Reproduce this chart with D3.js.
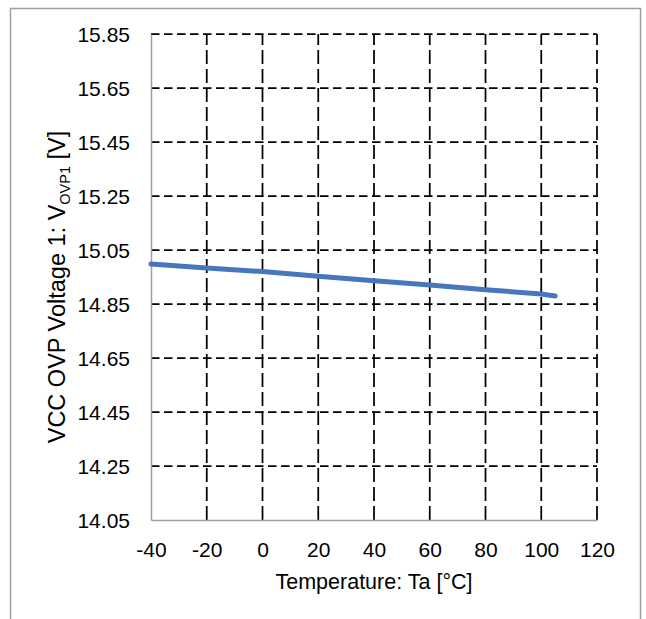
<!DOCTYPE html>
<html>
<head>
<meta charset="utf-8">
<script src="https://cdn.jsdelivr.net/npm/d3@7"></script>
<style>
  html, body { margin: 0; padding: 0; background: #fff; }
  svg { display: block; }
  text { font-family: "Liberation Sans", Arial, sans-serif; fill: #000; }
</style>
</head>
<body>
<svg id="chart" width="646" height="619"></svg>
<script>
// Ambient temperature (°C) and measured VCC OVP threshold voltage (V)
const temperature = [-40, -20, 0, 20, 40, 60, 80, 100, 105];
const vovp1 = [14.998, 14.983, 14.970, 14.953, 14.936, 14.920, 14.903, 14.887, 14.880];

const xTicks = [-40, -20, 0, 20, 40, 60, 80, 100, 120];
const yTicks = [14.05, 14.25, 14.45, 14.65, 14.85, 15.05, 15.25, 15.45, 15.65, 15.85];

const svg = d3.select("#chart");
const W = 646, H = 619;
const plot = { left: 151, right: 597, top: 34, bottom: 520 };
const FONT = "'Liberation Sans', Arial, sans-serif";

svg.append("rect").attr("width", W).attr("height", H).attr("fill", "#fff");

// chart frame
svg.append("rect")
  .attr("x", 10.5).attr("y", 8.5)
  .attr("width", 630).attr("height", 640)
  .attr("fill", "none").attr("stroke", "#a0a0a0").attr("stroke-width", 1.5);

const x = d3.scaleLinear().domain([-40, 120]).range([plot.left, plot.right]);
const y = d3.scaleLinear().domain([14.05, 15.85]).range([plot.bottom, plot.top]);

// horizontal dashed gridlines
svg.append("g").selectAll("line")
  .data(yTicks.filter(d => d > 14.05))
  .join("line")
  .attr("x1", plot.left).attr("x2", plot.right)
  .attr("y1", d => y(d)).attr("y2", d => y(d))
  .attr("stroke", "#000").attr("stroke-width", 1.75)
  .attr("stroke-dasharray", "8.5,4.5");

// vertical dashed gridlines, drawn upward from the x axis
svg.append("g").selectAll("line")
  .data(xTicks.filter(d => d > -40))
  .join("line")
  .attr("x1", d => x(d)).attr("x2", d => x(d))
  .attr("y1", plot.bottom).attr("y2", plot.top)
  .attr("stroke", "#000").attr("stroke-width", 1.75)
  .attr("stroke-dasharray", "14,5");

// axes (plain hyphen for negative numbers)
const xAxis = d3.axisBottom(x).tickValues(xTicks).tickSize(0).tickPadding(0)
  .tickFormat(d => String(d));
const gx = svg.append("g").attr("transform", `translate(0,${plot.bottom})`).call(xAxis);
gx.select(".domain").attr("stroke", "#a0a0a0").attr("stroke-width", 1.5);
gx.selectAll("text").attr("font-size", 21).attr("dy", null).attr("y", 37)
  .attr("font-family", FONT).attr("fill", "#000");

const yAxis = d3.axisLeft(y).tickValues(yTicks).tickSize(0).tickPadding(21)
  .tickFormat(d => d.toFixed(2));
const gy = svg.append("g").attr("transform", `translate(${plot.left},0)`).call(yAxis);
gy.select(".domain").attr("stroke", "#a0a0a0").attr("stroke-width", 1.5);
gy.selectAll("text").attr("font-size", 21).attr("dy", "0.35em")
  .attr("font-family", FONT).attr("fill", "#000");

// data line
const line = d3.line().x((d, i) => x(temperature[i])).y(d => y(d));
svg.append("path")
  .datum(vovp1)
  .attr("d", line)
  .attr("fill", "none")
  .attr("stroke", "#4677BE")
  .attr("stroke-width", 5)
  .attr("stroke-linecap", "round")
  .attr("stroke-linejoin", "round");

// axis titles
svg.append("text")
  .attr("x", (plot.left + plot.right) / 2).attr("y", 589)
  .attr("text-anchor", "middle").attr("font-size", 21.5)
  .text("Temperature: Ta [°C]");

const yt = svg.append("text")
  .attr("transform", "translate(65,287) rotate(-90)")
  .attr("text-anchor", "middle").attr("font-size", 23.5);
yt.append("tspan").text("VCC OVP Voltage 1: V");
yt.append("tspan").attr("font-size", 14.5).attr("dy", 4.5).text("OVP1");
yt.append("tspan").attr("dy", -4.5).text(" [V]");
</script>
</body>
</html>
